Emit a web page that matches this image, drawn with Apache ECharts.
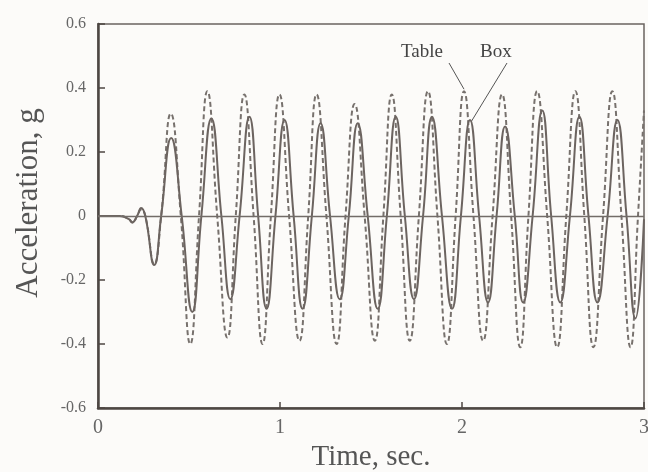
<!DOCTYPE html>
<html>
<head>
<meta charset="utf-8">
<script src="https://cdn.jsdelivr.net/npm/echarts@6/dist/echarts.min.js"></script>
<style>
  html, body { margin: 0; padding: 0; background: #fcfbf9; }
  #chart { width: 648px; height: 472px; }
</style>
</head>
<body>
<div id="chart"></div>
<script>
// Shake-table test record: acceleration of the table and of the box on it
const tableTime = [0, 0.12, 0.17, 0.19, 0.215, 0.237, 0.26, 0.309, 0.347, 0.40, 0.455, 0.507, 0.555, 0.601, 0.655, 0.711, 0.757, 0.804, 0.855, 0.904, 0.95, 0.997, 1.05, 1.107, 1.155, 1.201, 1.255, 1.311, 1.36, 1.41, 1.465, 1.521, 1.568, 1.614, 1.663, 1.713, 1.763, 1.813, 1.865, 1.917, 1.965, 2.011, 2.063, 2.116, 2.168, 2.22, 2.27, 2.32, 2.365, 2.413, 2.468, 2.523, 2.573, 2.623, 2.672, 2.722, 2.775, 2.826, 2.876, 2.926, 2.967, 3.0];
const tableAcc = [0, 0, -0.01, -0.02, 0, 0.02, 0, -0.15, 0, 0.32, 0, -0.40, 0, 0.39, 0, -0.38, 0, 0.38, 0, -0.40, 0, 0.38, 0, -0.39, 0, 0.38, 0, -0.40, 0, 0.35, 0, -0.39, 0, 0.38, 0, -0.39, 0, 0.39, 0, -0.40, 0, 0.39, 0, -0.39, 0, 0.38, 0, -0.41, 0, 0.39, 0, -0.41, 0, 0.39, 0, -0.41, 0, 0.39, 0, -0.41, 0, 0.33];

const boxTime = [0, 0.12, 0.17, 0.187, 0.215, 0.237, 0.26, 0.309, 0.347, 0.402, 0.46, 0.518, 0.568, 0.623, 0.678, 0.727, 0.778, 0.832, 0.88, 0.926, 0.975, 1.025, 1.075, 1.124, 1.175, 1.223, 1.275, 1.328, 1.378, 1.427, 1.482, 1.537, 1.587, 1.636, 1.686, 1.736, 1.786, 1.835, 1.89, 1.945, 1.994, 2.044, 2.094, 2.143, 2.19, 2.237, 2.29, 2.336, 2.388, 2.441, 2.49, 2.54, 2.593, 2.645, 2.695, 2.744, 2.8, 2.854, 2.904, 2.953, 3.0];
const boxAcc = [0, 0, -0.01, -0.02, 0, 0.025, 0, -0.153, 0, 0.244, 0, -0.30, 0, 0.305, 0, -0.26, 0, 0.31, 0, -0.29, 0, 0.30, 0, -0.29, 0, 0.29, 0, -0.26, 0, 0.29, 0, -0.29, 0, 0.31, 0, -0.26, 0, 0.31, 0, -0.29, 0, 0.30, 0, -0.27, 0, 0.28, 0, -0.27, 0, 0.33, 0, -0.27, 0, 0.31, 0, -0.27, 0, 0.30, 0, -0.32, -0.01];

const xTicks = [0, 1, 2, 3];
const yTicks = [-0.6, -0.4, -0.2, 0, 0.2, 0.4, 0.6];

const labels = [
  { text: 'Table', series: 'Table', t: 2.011, v: 0.39 },
  { text: 'Box', series: 'Box', t: 2.044, v: 0.30 }
];

const zip = (xs, ys) => xs.map((x, i) => [x, ys[i]]);

const serif = '"Liberation Serif", "DejaVu Serif", serif';
const ink = '#4d4743';

const chart = echarts.init(document.getElementById('chart'), null, { renderer: 'canvas' });

chart.setOption({
  animation: false,
  backgroundColor: '#fcfbf9',
  grid: {
    left: 98, right: 4, top: 24, bottom: 64,
    outerBoundsMode: 'none', containLabel: false,
    show: true, borderColor: '#6a6460', borderWidth: 1.5, backgroundColor: 'transparent'
  },
  xAxis: {
    type: 'value',
    min: xTicks[0], max: xTicks[xTicks.length - 1], interval: 1,
    name: 'Time, sec.', nameLocation: 'middle', nameGap: 35,
    nameTextStyle: { fontFamily: serif, fontSize: 29, color: '#555' },
    axisLine: { show: true, onZero: false, lineStyle: { color: ink, width: 2.5 } },
    axisTick: { show: true, inside: true, length: 6, lineStyle: { color: ink, width: 1.5 } },
    axisLabel: { fontFamily: serif, fontSize: 20, color: '#666', margin: 10 },
    splitLine: { show: false }
  },
  yAxis: {
    type: 'value',
    min: yTicks[0], max: yTicks[yTicks.length - 1], interval: 0.2,
    name: 'Acceleration, g', nameLocation: 'middle', nameGap: 54,
    nameTextStyle: { fontFamily: serif, fontSize: 31, color: '#555', padding: [0, 0, 0, 26] },
    axisLine: { show: true, lineStyle: { color: ink, width: 2.5 } },
    axisTick: { show: true, inside: true, length: 7, lineStyle: { color: ink, width: 1.5 } },
    axisLabel: {
      fontFamily: serif, fontSize: 16, color: '#666', margin: 12,
      formatter: v => (Math.abs(v) < 1e-9 ? '0' : String(Math.round(v * 10) / 10))
    },
    splitLine: { show: false }
  },
  series: [
    {
      name: 'Box', type: 'line', data: zip(boxTime, boxAcc),
      smooth: 0.5, showSymbol: false, z: 3,
      lineStyle: { color: '#6c6460', width: 2, type: 'solid' },
      markLine: {
        silent: true, symbol: 'none', label: { show: false },
        lineStyle: { color: '#726c68', width: 1.3, type: 'solid' },
        data: [{ yAxis: 0 }]
      }
    },
    {
      name: 'Table', type: 'line', data: zip(tableTime, tableAcc),
      smooth: 0.5, showSymbol: false, z: 2,
      lineStyle: { color: '#77716d', width: 2, type: [5, 3] }
    }
  ]
});

// Callout labels with leader lines pointing at a peak of each trace
const tip = l => chart.convertToPixel({ gridIndex: 0 }, [l.t, l.v]);
const pTable = tip(labels[0]);
const pBox = tip(labels[1]);
chart.setOption({
  graphic: [
    { type: 'text', left: 401, top: 43,
      style: { text: labels[0].text, font: '19px ' + serif, fill: '#444' } },
    { type: 'text', left: 480, top: 43,
      style: { text: labels[1].text, font: '19px ' + serif, fill: '#444' } },
    { type: 'line', shape: { x1: 449, y1: 63, x2: pTable[0], y2: pTable[1] - 2 },
      style: { stroke: '#555', lineWidth: 1 } },
    { type: 'line', shape: { x1: 507, y1: 63, x2: pBox[0] + 1, y2: pBox[1] + 2 },
      style: { stroke: '#555', lineWidth: 1 } }
  ]
});
</script>
</body>
</html>
